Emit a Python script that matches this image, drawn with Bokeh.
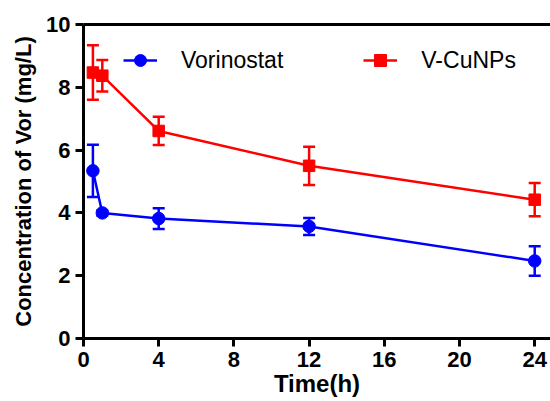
from bokeh.plotting import figure
from bokeh.models import (ColumnDataSource, Range1d, Whisker, TeeHead, Legend, LegendItem,
                          LinearAxis, FixedTicker)
from bokeh.embed import file_html
from bokeh.resources import INLINE

# ---- data ----
time_h = [0.5, 1, 4, 12, 24]
vor_mean = [5.34, 4.00, 3.82, 3.57, 2.47]
vor_sd = [0.83, 0.08, 0.33, 0.27, 0.47]
cu_mean = [8.47, 8.37, 6.61, 5.50, 4.42]
cu_sd = [0.87, 0.50, 0.45, 0.61, 0.53]
x_ticks = [0, 4, 8, 12, 16, 20, 24]
y_ticks = [0, 2, 4, 6, 8, 10]

BLUE = "#0000FF"
RED = "#FF0000"
FONT = "Liberation Sans"

def src(mean, sd):
    return ColumnDataSource(dict(
        x=time_h, y=mean,
        upper=[m + s for m, s in zip(mean, sd)],
        lower=[m - s for m, s in zip(mean, sd)],
    ))

s_vor = src(vor_mean, vor_sd)
s_cu = src(cu_mean, cu_sd)

p = figure(width=550, height=401, output_backend="svg", toolbar_location=None,
           x_range=Range1d(0, 24.84), y_range=Range1d(0, 10),
           min_border_left=83, min_border_right=0, min_border_top=24, min_border_bottom=63)
p.outline_line_color = None
p.grid.visible = False
p.background_fill_color = "white"
p.border_fill_color = "white"

for ax in (p.xaxis[0], p.yaxis[0]):
    ax.axis_line_width = 3
    ax.axis_line_color = "black"
    ax.major_tick_line_width = 3
    ax.major_tick_in = 0
    ax.major_tick_out = 8
    ax.minor_tick_line_color = None
    ax.major_label_text_font = FONT
    ax.major_label_text_font_style = "bold"
    ax.major_label_text_font_size = "22px"
    ax.major_label_text_color = "black"
    ax.axis_label_text_font = FONT
    ax.axis_label_text_font_style = "bold"
    ax.axis_label_text_color = "black"
    ax.major_label_standoff = 5

p.xaxis.ticker = FixedTicker(ticks=x_ticks)
p.yaxis.ticker = FixedTicker(ticks=y_ticks)
p.xaxis.axis_label = "Time(h)"
p.yaxis.axis_label = "Concentration of Vor (mg/L)"
p.xaxis.axis_label_text_font_size = "24px"
p.yaxis.axis_label_text_font_size = "22px"
p.xaxis.axis_label_standoff = 0
p.yaxis.axis_label_standoff = 7

top = LinearAxis(ticker=FixedTicker(ticks=[]), axis_line_width=3, axis_line_color="black",
                 major_label_text_font_size="0px", major_tick_line_color=None,
                 minor_tick_line_color=None)
p.add_layout(top, "above")

renderers = {}
for s, color, marker, size, name in ((s_vor, BLUE, "circle", 12.5, "Vorinostat"),
                                     (s_cu, RED, "square", 11.5, "V-CuNPs")):
    w = Whisker(source=s, base="x", upper="upper", lower="lower", dimension="height",
                line_color=color, line_width=2.5,
                upper_head=TeeHead(size=12, line_color=color, line_width=2.5),
                lower_head=TeeHead(size=12, line_color=color, line_width=2.5))
    p.add_layout(w)
    l = p.line("x", "y", source=s, line_color=color, line_width=2.5)
    m = p.scatter("x", "y", source=s, marker=marker, size=size, fill_color=color, line_color=color)
    renderers[name] = [l, m]

legend = Legend(items=[LegendItem(label=k, renderers=v) for k, v in renderers.items()],
                orientation="horizontal", location=(40, 263),
                glyph_width=34, glyph_height=30, label_height=30, label_standoff=24,
                spacing=80, padding=0, margin=0,
                border_line_color=None, background_fill_alpha=0,
                label_text_font=FONT, label_text_font_size="23px", label_text_color="black")
p.add_layout(legend)

open("out.html", "w").write(file_html(p, INLINE))
